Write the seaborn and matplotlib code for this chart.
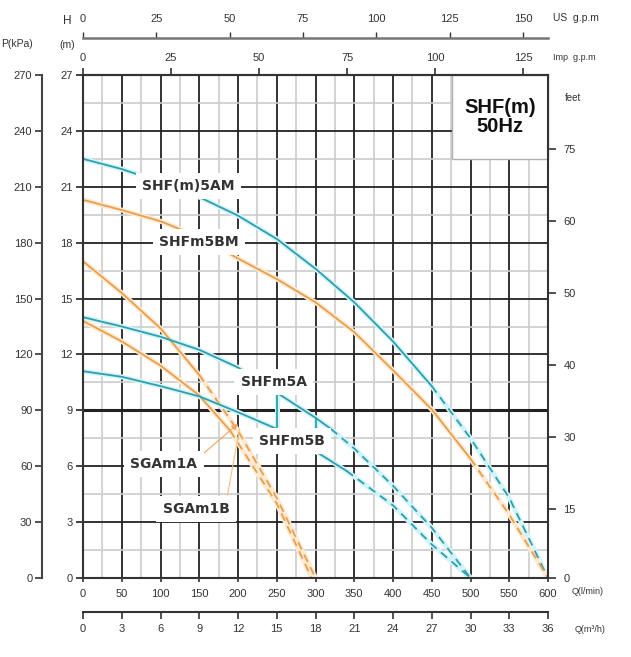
import numpy as np
import pandas as pd
import matplotlib
matplotlib.use("Agg")
import matplotlib.pyplot as plt
import seaborn as sns
from matplotlib.ticker import MultipleLocator
from matplotlib.patches import Rectangle

# ---------------- data (Q in l/min, H in m) ----------------
q_5am_solid = [0, 50, 100, 150, 200, 250, 300, 350, 400, 450]
h_5am_solid = [22.5, 21.95, 21.25, 20.45, 19.45, 18.2, 16.6, 14.8, 12.7, 10.3]
q_5am_dash = [450, 500, 550, 600]
h_5am_dash = [10.3, 7.5, 4.3, 0.0]

q_5bm_solid = [0, 50, 100, 150, 200, 250, 300, 350, 400, 450, 500]
h_5bm_solid = [20.3, 19.75, 19.15, 18.3, 17.15, 16.05, 14.8, 13.2, 11.15, 9.05, 6.4]
q_5bm_dash = [500, 550, 600]
h_5bm_dash = [6.4, 3.4, 0.0]

q_5a_solid = [0, 50, 100, 150, 200, 250, 300, 320]
h_5a_solid = [14.0, 13.5, 12.95, 12.25, 11.3, 9.95, 8.6, 8.0]
q_5a_dash = [320, 350, 400, 450, 500]
h_5a_dash = [8.0, 6.95, 4.95, 2.7, 0.0]

q_5b_solid = [0, 50, 100, 150, 200, 250, 300, 340]
h_5b_solid = [11.1, 10.8, 10.3, 9.75, 8.9, 8.0, 6.8, 5.75]
q_5b_dash = [340, 400, 450, 500]
h_5b_dash = [5.75, 3.9, 1.8, 0.0]

q_link1 = [250, 250]
h_link1 = [8.0, 9.95]
q_link2 = [300, 300]
h_link2 = [8.6, 6.8]

q_1a_solid = [0, 50, 100, 150]
h_1a_solid = [17.0, 15.3, 13.4, 10.9]
q_1a_dash = [150, 200, 250, 300]
h_1a_dash = [10.9, 7.9, 4.3, 0.0]

q_1b_solid = [0, 50, 100, 150, 190]
h_1b_solid = [13.8, 12.7, 11.4, 9.8, 7.9]
q_1b_dash = [190, 250, 295]
h_1b_dash = [7.9, 4.0, 0.0]

curve_labels = ["SHF(m)5AM", "SHFm5BM", "SHFm5A", "SHFm5B", "SGAm1A", "SGAm1B"]
label_q = [135.5, 149.7, 246, 269.7, 104.5, 145.8]
label_h = [21.04, 18.04, 10.52, 7.35, 6.12, 3.7]

p_ticks = list(range(0, 271, 30))
h_ticks = list(range(0, 28, 3))
q_ticks = list(range(0, 601, 50))
m3h_ticks = list(range(0, 37, 3))
us_ticks = list(range(0, 151, 25))
imp_ticks = list(range(0, 126, 25))
feet_labels = ["0", "15", "30", "40", "50", "60", "75"]
feet_tick_h = [0, 3.70, 7.57, 11.43, 15.30, 19.16, 23.03]

# ---------------- style ----------------
sns.set_theme(style="white")
plt.rcParams["font.family"] = ["Liberation Sans", "DejaVu Sans"]

TEAL = "#2e9fae"
TEAL_HALO = "#d2f4f9"
ORANGE = "#e99f4c"
ORANGE_HALO = "#feead3"
DARK = "#222222"
TXT = "#333333"

W, H = 631, 657
fig = plt.figure(figsize=(W / 100, H / 100), dpi=100)
ax = fig.add_axes([83 / W, 1 - 578 / H, 465 / W, 503 / H])
ax.set_xlim(0, 600)
ax.set_ylim(0, 27)

# grid
ax.xaxis.set_major_locator(MultipleLocator(50))
ax.xaxis.set_minor_locator(MultipleLocator(25))
ax.yaxis.set_major_locator(MultipleLocator(3))
ax.yaxis.set_minor_locator(MultipleLocator(1.5))
ax.grid(which="minor", color="#cccccc", lw=1.2, zorder=0)
ax.grid(which="major", color=DARK, lw=1.3, zorder=0.5)
ax.set_axisbelow(True)
ax.axhline(9, color=DARK, lw=2.2, zorder=0.6)

# curves
def draw(q, h, color, halo, dashed=False):
    df = pd.DataFrame({"Q": q, "H": h})
    sns.lineplot(data=df, x="Q", y="H", ax=ax, color=halo, lw=3.6,
                 sort=False, estimator=None, zorder=2)
    ls = (0, (4.5, 3.2)) if dashed else "-"
    sns.lineplot(data=df, x="Q", y="H", ax=ax, color=color, lw=1.3,
                 sort=False, estimator=None, zorder=3, linestyle=ls)

draw(q_5am_solid, h_5am_solid, TEAL, TEAL_HALO)
draw(q_5am_dash, h_5am_dash, TEAL, TEAL_HALO, True)
draw(q_5bm_solid, h_5bm_solid, ORANGE, ORANGE_HALO)
draw(q_5bm_dash, h_5bm_dash, ORANGE, ORANGE_HALO, True)
draw(q_1a_solid, h_1a_solid, ORANGE, ORANGE_HALO)
draw(q_1a_dash, h_1a_dash, ORANGE, ORANGE_HALO, True)
draw(q_1b_solid, h_1b_solid, ORANGE, ORANGE_HALO)
draw(q_1b_dash, h_1b_dash, ORANGE, ORANGE_HALO, True)
draw(q_5a_solid, h_5a_solid, TEAL, TEAL_HALO)
draw(q_5a_dash, h_5a_dash, TEAL, TEAL_HALO, True)
draw(q_5b_solid, h_5b_solid, TEAL, TEAL_HALO)
draw(q_5b_dash, h_5b_dash, TEAL, TEAL_HALO, True)
draw(q_link1, h_link1, TEAL, TEAL_HALO)
draw(q_link2, h_link2, TEAL, TEAL_HALO)
ax.set_xlabel("")
ax.set_ylabel("")

# curve labels
for i, (lab, lq, lh) in enumerate(zip(curve_labels, label_q, label_h)):
    ax.text(lq, lh, lab, ha="center", va="center", fontsize=10,
            family="DejaVu Sans", weight="bold", color=TXT, zorder=6,
            bbox=dict(facecolor="white", edgecolor="none", pad=4.5))

# leader lines of SGAm1 labels
arrow_q, arrow_h = 202.6, 8.37
ax.annotate("", xy=(arrow_q, arrow_h), xytext=(label_q[4] + 45, label_h[4] + 0.35),
            arrowprops=dict(arrowstyle="-|>", color="#f0a860", lw=0.8,
                            mutation_scale=9), zorder=5)
ax.annotate("", xy=(arrow_q, arrow_h - 0.2), xytext=(label_q[5] + 40, label_h[5] + 0.6),
            arrowprops=dict(arrowstyle="-", color="#f4c080", lw=0.8), zorder=5)

# title box
ax.add_patch(Rectangle((476, 22.5), 124, 4.5, facecolor="white",
                       edgecolor="#b0b0b0", lw=1, zorder=6, clip_on=False))
ax.text(538, 24.75, "SHF(m)\n50Hz", ha="center", va="center", fontsize=14.5,
        weight="bold", color="#111111", linespacing=1.0, zorder=7)

# main axes ticks & spines
for s in ax.spines.values():
    s.set_color("#333333")
    s.set_linewidth(1.5)
    s.set_zorder(8)
ax.set_xticks(q_ticks)
ax.set_yticks(h_ticks)
ax.tick_params(axis="both", which="minor", length=0)
ax.tick_params(axis="y", which="major", direction="out", length=5, width=1.3,
               pad=2.5, labelsize=8, colors=TXT, left=True)
ax.tick_params(axis="x", which="major", direction="out", length=3, width=1.2,
               pad=5, labelsize=8, colors=TXT, bottom=True)

# P(kPa) axis
pax = ax.secondary_yaxis(-0.088, functions=(lambda h: h * 10, lambda p: p / 10))
pax.set_yticks(p_ticks)
pax.tick_params(direction="out", length=5, width=1.2, pad=2, labelsize=8, colors=TXT)
pax.spines["left"].set_color("#444444")
pax.spines["left"].set_linewidth(1.5)

# feet axis
fax = ax.secondary_yaxis("right", functions=(lambda h: h, lambda h: h))
fax.set_yticks(feet_tick_h, labels=feet_labels)
fax.tick_params(direction="out", length=6, width=1.2, pad=5, labelsize=8, colors=TXT)

# Imp g.p.m axis (top)
iax = ax.secondary_xaxis("top", functions=(lambda q: q / 4.54609, lambda g: g * 4.54609))
iax.set_xticks(imp_ticks)
iax.tick_params(direction="out", length=5, width=1.2, pad=3.5, labelsize=8, colors=TXT)
iax.spines["top"].set_color("#333333")
iax.spines["top"].set_linewidth(1.5)

# US g.p.m axis (top, raised)
uax = ax.secondary_xaxis(1 + 37 / 503, functions=(lambda q: q / 3.78541, lambda g: g * 3.78541))
uax.set_xticks(us_ticks)
uax.tick_params(direction="out", length=4, width=1.0, pad=6, labelsize=8, colors=TXT)
uax.spines["top"].set_color("#777777")
uax.spines["top"].set_linewidth(1.8)

# m3/h axis (bottom, lowered)
max_ = ax.secondary_xaxis(-34 / 503, functions=(lambda q: q * 0.06, lambda m: m / 0.06))
max_.set_xticks(m3h_ticks)
max_.tick_params(direction="out", length=5, width=1.2, pad=4, labelsize=8, colors=TXT)
max_.spines["bottom"].set_color("#333333")
max_.spines["bottom"].set_linewidth(1.5)

# unit texts
def ftext(x, y, s, **kw):
    fig.text(x / W, 1 - y / H, s, va="center", color=TXT, **kw)

ftext(553, 18, "US  g.p.m", fontsize=7.5, ha="left")
ftext(553, 57, "Imp  g.p.m", fontsize=6.5, ha="left")
ftext(67, 21, "H", fontsize=8.5, ha="center")
ftext(67, 45, "(m)", fontsize=7.5, ha="center")
ftext(1, 44, "P(kPa)", fontsize=7.5, ha="left")
ftext(565, 98, "feet", fontsize=7, ha="left")
ftext(572, 592, "Q(l/min)", fontsize=6.5, ha="left")
ftext(575, 630, "Q(m\u00b3/h)", fontsize=6.5, ha="left")

fig.savefig("out.png", dpi=100, facecolor="white")
